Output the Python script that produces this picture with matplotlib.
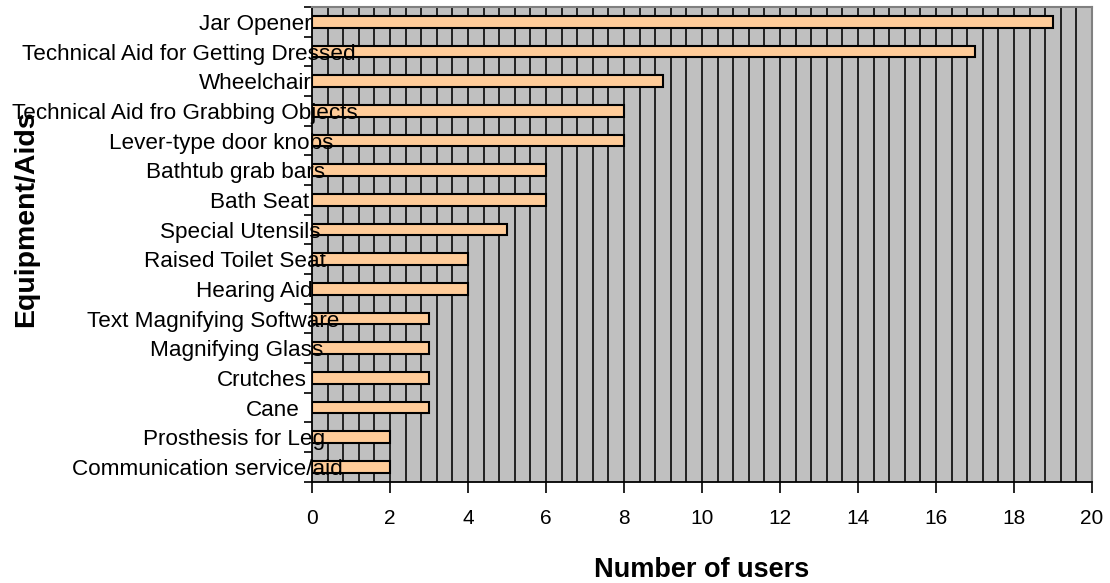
import numpy as np
import matplotlib
matplotlib.use("Agg")
import matplotlib.pyplot as plt
from matplotlib.ticker import FixedLocator, NullFormatter

plt.rcParams['font.family'] = ['Liberation Sans', 'DejaVu Sans']

# data, listed top to bottom as in the chart
equipment = [
    "Jar Opener",
    "Technical Aid for Getting Dressed",
    "Wheelchair",
    "Technical Aid fro Grabbing Objects",
    "Lever-type door knobs",
    "Bathtub grab bars",
    "Bath Seat",
    "Special Utensils",
    "Raised Toilet Seat",
    "Hearing Aid",
    "Text Magnifying Software",
    "Magnifying Glass",
    "Crutches",
    "Cane",
    "Prosthesis for Leg",
    "Communication service/aid",
]
users = [19, 17, 9, 8, 8, 6, 6, 5, 4, 4, 3, 3, 3, 3, 2, 2]
x_ticks = list(range(0, 21, 2))

DPI = 100
fig = plt.figure(figsize=(11.10, 5.83), dpi=DPI)
ax = fig.add_axes([312 / 1110, 1 - 481.7 / 583, 780 / 1110, 474.7 / 583])
ax.set_facecolor("#C0C0C0")

ypos = np.arange(len(equipment))

# vertical gridlines every 0.4
for gx in np.arange(0.4, 20, 0.4):
    ax.axvline(gx, color="black", lw=1.15, zorder=1)

ax.barh(ypos, users, height=0.4, color="#FFCC99", edgecolor="black",
        linewidth=1.5, zorder=2)

ax.set_xlim(0, 20)
ax.set_ylim(len(equipment) - 0.5, -0.5)

ax.set_xticks(x_ticks)
ax.set_xticklabels([str(v) for v in x_ticks], fontsize=15)
ax.tick_params(axis="x", direction="out", length=8, width=1.2, pad=12, colors="black")

ax.yaxis.set_major_locator(FixedLocator(ypos))
ax.yaxis.set_major_formatter(NullFormatter())
ax.yaxis.set_minor_locator(FixedLocator(np.arange(-0.5, len(equipment), 1)))
ax.tick_params(axis="y", which="major", length=0)
ax.tick_params(axis="y", which="minor", direction="out", length=6, width=1.2)

for side in ["top", "right"]:
    ax.spines[side].set_color("#808080")
    ax.spines[side].set_linewidth(1.5)
for side in ["left", "bottom"]:
    ax.spines[side].set_color("black")
    ax.spines[side].set_linewidth(1.3)

# category labels, shifted like the original rendering
labels = []
for y, name in zip(ypos, equipment):
    t = ax.text(0, y, name, fontsize=16.2, ha="left", va="center_baseline",
                zorder=5, clip_on=False)
    labels.append(t)
fig.canvas.draw()
renderer = fig.canvas.get_renderer()
px_per_unit = 780 / 20
for t in labels:
    w = t.get_window_extent(renderer).width
    left_px = 289 - 0.8 * w
    t.set_x((left_px - 312) / px_per_unit)

fig.text(701.5 / 1110, 1 - 577 / 583, "Number of users", fontsize=19.5,
         fontweight="bold", ha="center", va="baseline")
fig.text(33 / 1110, 1 - 219 / 583, "Equipment/Aids", fontsize=20.5,
         fontweight="bold", rotation=90, rotation_mode="anchor",
         ha="center", va="baseline")

fig.savefig("out.png", dpi=DPI)
